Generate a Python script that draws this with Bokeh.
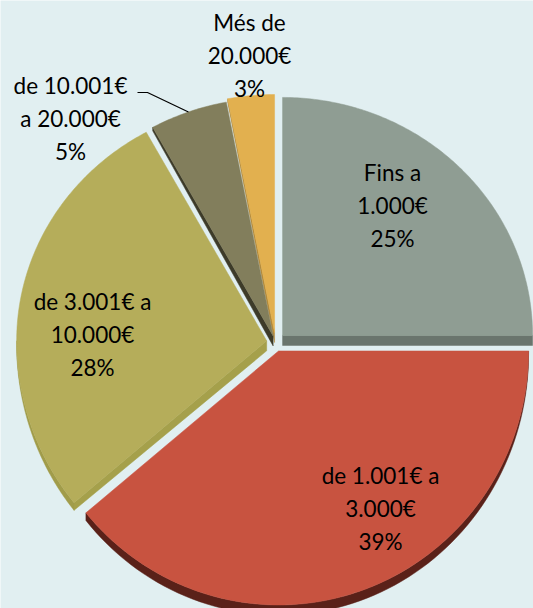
import numpy as np
from bokeh.plotting import figure
from bokeh.models import Range1d, ColumnDataSource
from bokeh.embed import file_html
from bokeh.resources import INLINE
from bokeh.core.properties import value

# ---- data ----
categories = ["Fins a\n1.000€", "de 1.001€ a\n3.000€", "de 3.001€ a\n10.000€",
              "de 10.001€\na 20.000€", "Més de\n20.000€"]
percent = [25, 39, 28, 5, 3]

# ---- styles / layout ----
top_colors = ["#8f9d93", "#c85340", "#b5ad5a", "#827e5c", "#e2b04f"]
cut_colors = ["#6a756d", "#8e3426", "#a5a04b", "#3d3b29", "#b38b3d"]
rim_colors = ["#5e6861", "#5a2119", "#a19c4a", "#3d3b29", "#a07a34"]
explode = [10, 9, 9, 7, 10]
label_pos = [(392, 172), (380, 475), (92, 301), (70, 85), (249, 22)]
draw_order = [4, 3, 0, 2, 1]
BG = "#e1eff1"
FONT = "Lato"

CX, CY = 275.0, 342.0
RX, RY_TOP, RY_BOT = 250.0, 238.0, 254.0
DEPTH = 10.0
LINE_STEP = 33.0


def pt(c, th):
    r = np.radians(th)
    ry = RY_TOP if np.cos(r) >= 0 else RY_BOT
    return (c[0] + RX * np.sin(r), c[1] - ry * np.cos(r))


def rim_depth(th):
    return DEPTH * (0.35 + 0.65 * max(-np.cos(np.radians(th)), 0.0))


total = float(sum(percent))
bounds = np.concatenate([[0.0], np.cumsum(percent) / total * 360.0])

xs, ys, cols = [], [], []
centers = {}
for i in draw_order:
    a, b = bounds[i], bounds[i + 1]
    mid = np.radians((a + b) / 2)
    c = (CX + explode[i] * np.sin(mid), CY - explode[i] * np.cos(mid))
    centers[i] = c
    # cut face at start angle a (normal a-90)
    if np.cos(np.radians(a - 90)) < -0.01:
        p1 = pt(c, a)
        xs.append([c[0], p1[0], p1[0], c[0]])
        ys.append([c[1], p1[1], p1[1] + rim_depth(a), c[1] + DEPTH])
        cols.append(cut_colors[i])
    # cut face at end angle b (normal b+90)
    if np.cos(np.radians(b + 90)) < -0.01:
        p1 = pt(c, b)
        xs.append([c[0], p1[0], p1[0], c[0]])
        ys.append([c[1], p1[1], p1[1] + DEPTH, c[1] + DEPTH])
        cols.append(cut_colors[i])
    # rim
    lo, hi = max(a, 90.0), min(b, 270.0)
    if lo < hi:
        th = np.linspace(lo, hi, 80)
        arc = [pt(c, t) for t in th]
        rx_ = [q[0] for q in arc] + [q[0] for q in arc[::-1]]
        ry_ = [q[1] for q in arc] + [q[1] + rim_depth(t) for q, t in zip(arc[::-1], th[::-1])]
        xs.append(rx_)
        ys.append(ry_)
        cols.append(rim_colors[i])
    # top face
    th = np.linspace(a, b, max(int((b - a) * 1.5), 8))
    arc = [pt(c, t) for t in th]
    xs.append([c[0]] + [q[0] for q in arc])
    ys.append([c[1]] + [q[1] for q in arc])
    cols.append(top_colors[i])

src = ColumnDataSource(dict(xs=xs, ys=ys, color=cols))

p = figure(width=533, height=608, output_backend="svg", toolbar_location=None,
           x_range=Range1d(0, 533), y_range=Range1d(608, 0),
           min_border=0, background_fill_color=BG, border_fill_color=BG)
p.axis.visible = False
p.grid.visible = False
p.outline_line_color = None

p.patches(xs="xs", ys="ys", fill_color="color", line_color="color",
          line_width=0.5, source=src)

# leader line for the 5% slice
i5 = 3
mid5 = (bounds[i5] + bounds[i5 + 1]) / 2
end = pt(centers[i5], mid5)
p.line([137, 147, end[0]], [92, 92, end[1]], line_color="black", line_width=1.2)

# labels
lx, ly, lt = [], [], []
for i, name in enumerate(categories):
    lines = name.split("\n") + [f"{percent[i]}%"]
    x0, y0 = label_pos[i]
    for k, ln in enumerate(lines):
        lx.append(x0)
        ly.append(y0 + k * LINE_STEP)
        lt.append(ln)
p.text(x=lx, y=ly, text=lt, text_font=value(FONT), text_font_size="22.5px",
       text_color="#000000", text_align="center", text_baseline="middle")

open("out.html", "w").write(file_html(p, INLINE))
